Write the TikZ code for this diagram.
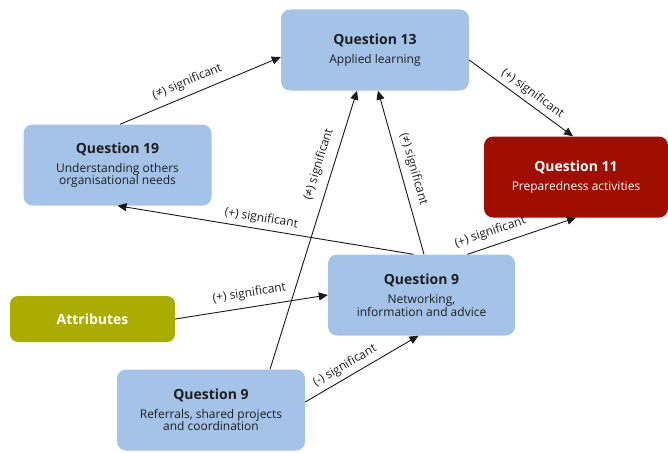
\documentclass[tikz,border=0pt]{standalone}
\usepackage{fontspec}
\setmainfont{Open Sans}
\usetikzlibrary{arrows.meta}
\definecolor{boxblue}{RGB}{165,195,232}
\definecolor{boxred}{RGB}{160,14,0}
\definecolor{boxolive}{RGB}{170,173,0}
\definecolor{txt}{RGB}{30,30,30}
\newcommand{\qtitle}{\fontsize{14}{17}\selectfont\bfseries}
\newcommand{\qsub}{\fontsize{12}{15.5}\selectfont\mdseries}
\begin{document}
\begin{tikzpicture}[x=1pt,y=-1pt,
  box/.style={rectangle, rounded corners=9pt, fill=boxblue, text=txt, align=center,
              inner sep=0pt, minimum width=188pt, minimum height=81pt},
  redbox/.style={box, fill=boxred, text=white, minimum width=184pt},
  olivebox/.style={rectangle, rounded corners=8pt, fill=boxolive, text=white,
              minimum width=165pt, minimum height=46pt, inner sep=0pt},
  conn/.style={draw=black!90, line width=0.9pt, -{Triangle[length=9pt,width=8pt]}},
  lbl/.style={sloped, inner sep=0pt, font=\fontsize{12}{14}\selectfont, text=txt}]
\useasboundingbox (0,0) rectangle (668,452);

\node[box] (q13) at (375,50) {\qtitle Question 13\\[7pt]\qsub Applied learning};
\node[box] (q19) at (117.5,165) {\qtitle Question 19\\[7pt]\qsub Understanding others\\\qsub organisational needs};
\node[redbox] (q11) at (576,177) {\qtitle Question 11\\[7pt]\qsub Preparedness activities};
\node[box, minimum width=187pt] (q9n) at (421.5,295) {\qtitle Question 9\\[7pt]\qsub Networking,\\\qsub information and advice};
\node[olivebox] (att) at (92.5,319) {\qtitle Attributes};
\node[box] (q9r) at (211,410) {\qtitle Question 9\\[7pt]\qsub Referrals, shared projects\\\qsub and coordination};

\draw[conn] ([xshift=2.5pt]q19.north) -- node[lbl, pos=0.45, above=6.5pt] {(≠) significant} ([yshift=-7pt]q13.west);
\draw[conn] ([yshift=-10pt]q13.east) -- node[lbl, pos=0.55, above=4pt] {(+) significant} ([xshift=-3pt]q11.north);
\draw[conn] ([xshift=-8pt]q9n.north) -- node[lbl, pos=0.52, above=4pt] {(+) significant} (q19.south);
\draw[conn] ([xshift=46pt]q9n.north) -- node[lbl, pos=0.25, above=7pt] {(+) significant} (q11.south);
\draw[conn] (att.east) -- node[lbl, pos=0.5, above=7pt] {(+) significant} (q9n.west);
\draw[conn] ([yshift=8pt]q9r.east) -- node[lbl, pos=0.4, above=4.5pt] {(-) significant} ([xshift=-3pt]q9n.south);
\draw[conn] ([xshift=59pt]q9r.north) -- node[lbl, pos=0.72, above=8pt] {(≠) significant} ([xshift=-18pt]q13.south);
\draw[conn] ([xshift=2.5pt]q9n.north) -- node[lbl, pos=0.5, above=6.5pt] {(≠) significant} ([xshift=3pt]q13.south);
\end{tikzpicture}
\end{document}
